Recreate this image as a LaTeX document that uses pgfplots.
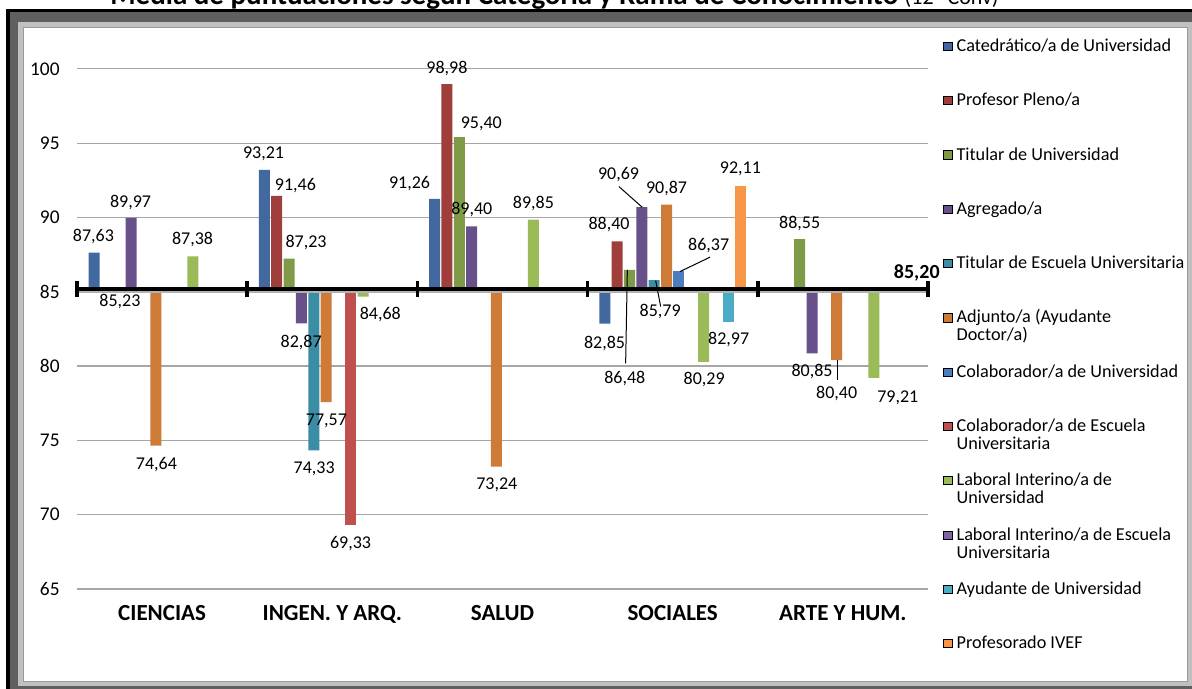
\documentclass[border=0pt]{standalone}
\usepackage{fontspec}
\setmainfont{Carlito}
\usepackage{pgfplots}
\usepackage{pgfplotstable}
\pgfplotsset{compat=1.18}

\definecolor{c0}{HTML}{4169A0}
\definecolor{c1}{HTML}{A03E3C}
\definecolor{c2}{HTML}{7F9B47}
\definecolor{c3}{HTML}{68508A}
\definecolor{c4}{HTML}{3B8DA6}
\definecolor{c5}{HTML}{CF7B38}
\definecolor{c6}{HTML}{4A7EBF}
\definecolor{c7}{HTML}{C0504D}
\definecolor{c8}{HTML}{9BBB59}
\definecolor{c9}{HTML}{8064A2}
\definecolor{c10}{HTML}{4BACC6}
\definecolor{c11}{HTML}{F79646}
\definecolor{frameDark}{HTML}{5F5F5F}
\definecolor{frameLight}{HTML}{C0C0C0}
\definecolor{frameLine}{HTML}{9A9A9A}

\newcommand\lab{\fontsize{9.0}{11}\selectfont}
\newcommand\tck{\fontsize{9.7}{12}\selectfont}
\newcommand\cat{\fontsize{11.5}{13}\selectfont\bfseries}
\newcommand\leg{\fontsize{9.1}{9}\selectfont}
% legend entry: marker on the first line, second line hangs below
\newcommand\LE[1]{\parbox[t]{117pt}{\raggedright #1}}

% x = branch (0..4), y = mean score, dx/dy = label offset in px
\pgfplotstableread{
x y dx dy
0 87.63 -0.7 11.1
1 93.21 -0.8 10.9
2 91.26 -25 10.6
3 82.85 -0.3 -24.5
}\tcatedr
\pgfplotstableread{
x y dx dy
1 91.46 18.7 4.9
2 98.98 0 10.9
3 88.40 -8.1 11.3
}\tpleno
\pgfplotstableread{
x y dx dy
0 85.23 1 -18.3
1 87.23 17 11
2 95.40 22 9
3 86.48 -4.7 -113.4
4 88.55 0 10.8
}\ttitular
\pgfplotstableread{
x y dx dy
0 89.97 -0.7 10.7
1 82.87 -0.3 -23.8
2 89.40 0.2 11.5
3 90.69 -23.3 27.3
4 80.85 0 -23.2
}\tagreg
\pgfplotstableread{
x y dx dy
1 74.33 0.4 -23.6
3 85.79 6 -36.6
}\ttitEU
\pgfplotstableread{
x y dx dy
0 74.64 0.5 -24.2
1 77.57 0.3 -23.5
2 73.24 0.5 -23.4
3 90.87 0 11.3
4 80.40 0 -38.1
}\tadjunto
\pgfplotstableread{
x y dx dy
3 86.37 29.8 20.8
}\tcolab
\pgfplotstableread{
x y dx dy
1 69.33 -0.3 -23.6
}\tcolabEU
\pgfplotstableread{
x y dx dy
0 87.38 -0.4 11.5
1 84.68 17.1 -23.4
2 89.85 0 10.8
3 80.29 0.6 -23.2
4 79.21 24 -25
}\tlaboral
\pgfplotstableread{
x y dx dy
3 82.97 0.4 -23
}\tayud
\pgfplotstableread{
x y dx dy
3 92.11 -0.2 12.2
}\tivef
\pgfplotstableread{
x y
-0.5 85.2
0.5 85.2
1.5 85.2
2.5 85.2
3.5 85.2
4.5 85.2
}\tbase

\pgfplotsset{
  /pgf/number format/assume math mode=true,
  sq/.style={legend image code/.code={\fill[##1] (0pt,0.5pt) rectangle (4.2pt,4.6pt);}},
  slot/.style={ybar, bar width=0.0647, bar shift=#1, draw=none, forget plot},
  lbl/.style={draw=none, forget plot, point meta=explicit,
    nodes near coords={\pgfmathprintnumber[fixed,fixed zerofill,precision=2,use comma]{\pgfplotspointmeta}},
    every node near coord/.style={anchor=base, inner sep=0pt, text=black, font=\lab}},
}
% one series: bars, then their value labels (offsets dx, dy given in px)
\newcommand\series[3]{%
  \addplot[slot=#1, fill=#2] table[x=x,y=y] {#3};
  \addplot[lbl] table[x expr=\thisrow{x}+#1+\thisrow{dx}/170,
                      y expr=\thisrow{y}+\thisrow{dy}/14.857, meta=y] {#3};}

\begin{document}
\begin{tikzpicture}
\begin{scope}[x=0.5pt,y=-0.5pt]
  \useasboundingbox (0,0) rectangle (1192,689);
  \fill[black] (6,9) rectangle (1260,760);
  \fill[frameDark] (10,12) rectangle (1250,750);
  \fill[frameLight] (18,22) rectangle (1200,686);
  \filldraw[fill=white, draw=frameLine, line width=0.4pt] (23,27) rectangle (1187,681);
  \node[anchor=base west, inner sep=0pt, font=\fontsize{14.5}{17}\selectfont\bfseries] at (110,5)
    {Media de puntuaciones según Categoría y Rama de Conocimiento {\mdseries\fontsize{11}{13}\selectfont(12ª Conv)}};
\end{scope}

\begin{axis}[
  at={(38.5pt,-294.5pt)}, anchor=south west,
  scale only axis, width=425.5pt, height=267.5pt,
  xmin=-0.5, xmax=4.5, ymin=65, ymax=101,
  y coord trafo/.code={\pgfmathparse{#1-85.2}},
  y coord inv trafo/.code={\pgfmathparse{#1+85.2}},
  ytick={65,70,75,80,85,90,95,100},
  yticklabels={65,70,75,80,85,90,95,100},
  xtick={0,1,2,3,4},
  xticklabels={CIENCIAS,INGEN. Y ARQ.,SALUD,SOCIALES,ARTE Y HUM.},
  major tick length=0pt,
  ymajorgrids, grid style={black!35, line width=0.6pt},
  axis line style={draw=none},
  yticklabel style={font=\tck, anchor=east, inner sep=0pt, xshift=-8.5pt},
  xticklabel style={font=\cat, anchor=base, yshift=-15.5pt},
  clip=false,
  legend style={at={(1.01763,1.03551)}, anchor=north west, draw=none, fill=none,
    inner sep=0pt, row sep=0pt, column sep=0pt, font=\leg,
    cells={anchor=base west},
    nodes={inner sep=0pt, outer sep=0pt, text height=8pt, text depth=19.15pt},
    /tikz/every odd column/.style={column sep=2pt}},
]
\series{-0.3990}{c0}{\tcatedr}
\series{-0.3265}{c1}{\tpleno}
\series{-0.2539}{c2}{\ttitular}
\series{-0.1814}{c3}{\tagreg}
\series{-0.1088}{c4}{\ttitEU}
\series{-0.0363}{c5}{\tadjunto}
\series{0.0363}{c6}{\tcolab}
\series{0.1088}{c7}{\tcolabEU}
\series{0.1814}{c8}{\tlaboral}
% slot 0.2539 (Laboral Interino/a de Escuela Universitaria) has no values
\series{0.3265}{c10}{\tayud}
\series{0.3990}{c11}{\tivef}

\addlegendimage{sq, fill=c0}
\addlegendentry{\LE{Catedrático/a de Universidad}}
\addlegendimage{sq, fill=c1}
\addlegendentry{\LE{Profesor Pleno/a}}
\addlegendimage{sq, fill=c2}
\addlegendentry{\LE{Titular de Universidad}}
\addlegendimage{sq, fill=c3}
\addlegendentry{\LE{Agregado/a}}
\addlegendimage{sq, fill=c4}
\addlegendentry{\LE{Titular de Escuela Universitaria}}
\addlegendimage{sq, fill=c5}
\addlegendentry{\LE{Adjunto/a (Ayudante\\Doctor/a)}}
\addlegendimage{sq, fill=c6}
\addlegendentry{\LE{Colaborador/a de Universidad}}
\addlegendimage{sq, fill=c7}
\addlegendentry{\LE{Colaborador/a de Escuela\\Universitaria}}
\addlegendimage{sq, fill=c8}
\addlegendentry{\LE{Laboral Interino/a de\\Universidad}}
\addlegendimage{sq, fill=c9}
\addlegendentry{\LE{Laboral Interino/a de Escuela\\Universitaria}}
\addlegendimage{sq, fill=c10}
\addlegendentry{\LE{Ayudante de Universidad}}
\addlegendimage{sq, fill=c11}
\addlegendentry{\LE{Profesorado IVEF}}

% horizontal axis at the overall mean
\addplot[forget plot, black!30, line width=2pt, sharp plot, yshift=-1.2pt] table {\tbase};
\addplot[forget plot, black, line width=2pt, sharp plot] table {\tbase};
\addplot[forget plot, only marks, mark=|, mark size=4pt, mark options={line width=1.8pt, black}] table {\tbase};
\node[anchor=base east, inner sep=0pt, font=\fontsize{10}{12}\selectfont\bfseries] at (axis cs:4.5706,85.866) {85,20};

% leader lines of moved labels
\draw[black, line width=0.5pt] (axis cs:2.7335,86.47) -- (axis cs:2.7235,80.19);
\draw[black, line width=0.5pt] (axis cs:2.684,92.08) -- (axis cs:2.8206,90.69);
\draw[black, line width=0.5pt] (axis cs:2.900,85.75) -- (axis cs:2.9294,84.0);
\draw[black, line width=0.5pt] (axis cs:3.0429,86.36) -- (axis cs:3.2194,87.33);
\draw[black, line width=0.5pt] (axis cs:3.969,80.38) -- (axis cs:3.969,79.07);
\end{axis}
\end{tikzpicture}
\end{document}
